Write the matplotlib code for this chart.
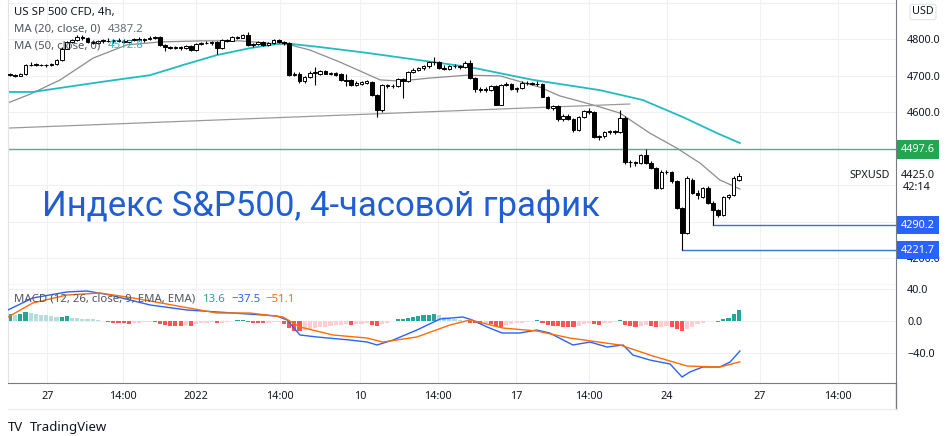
import matplotlib.pyplot as plt
from matplotlib.lines import Line2D
from matplotlib.transforms import blended_transform_factory

plt.rcParams['font.family'] = ['Noto Sans', 'DejaVu Sans']

# 4h candles of US SP 500 CFD, bar index 0..141
opens = [
    4703, 4701, 4700, 4704, 4728, 4730, 4729, 4728, 4730, 4731,
    4742, 4774, 4791, 4797, 4806, 4803, 4793, 4790, 4795, 4796,
    4794, 4798, 4795, 4792, 4797, 4800, 4797, 4801, 4804, 4805,
    4783, 4778, 4776, 4777, 4775, 4780, 4770, 4786, 4790, 4788,
    4793, 4775, 4797, 4796, 4805, 4804, 4812, 4785, 4787, 4792,
    4783, 4790, 4797, 4792, 4789, 4702, 4705, 4684, 4697, 4708,
    4705, 4712, 4705, 4707, 4704, 4688, 4688, 4674, 4678, 4680,
    4682, 4647, 4605, 4674, 4671, 4670, 4690, 4685, 4710, 4716,
    4720, 4727, 4737, 4738, 4722, 4719, 4726, 4727, 4723, 4735,
    4693, 4662, 4664, 4660, 4671, 4620, 4674, 4677, 4664, 4665,
    4680, 4679, 4677, 4676, 4642, 4612, 4616, 4580, 4590, 4582,
    4551, 4586, 4602, 4600, 4531, 4533, 4545, 4547, 4546, 4584,
    4463, 4462, 4460, 4482, 4461, 4447, 4392, 4436, 4435, 4410,
    4338, 4268, 4414, 4378, 4367, 4392, 4351, 4331, 4318, 4367,
    4372, 4414]
highs = [
    4708, 4705, 4706, 4731, 4737, 4733, 4732, 4731, 4734, 4745,
    4778, 4795, 4800, 4812, 4810, 4805, 4797, 4798, 4800, 4802,
    4800, 4803, 4799, 4798, 4804, 4805, 4803, 4808, 4809, 4807,
    4786, 4782, 4780, 4781, 4784, 4784, 4789, 4792, 4794, 4796,
    4796, 4799, 4801, 4807, 4809, 4815, 4820, 4790, 4795, 4794,
    4793, 4800, 4799, 4795, 4791, 4710, 4709, 4700, 4712, 4723,
    4714, 4715, 4710, 4710, 4706, 4704, 4690, 4684, 4686, 4688,
    4686, 4650, 4676, 4678, 4676, 4692, 4694, 4712, 4720, 4724,
    4730, 4740, 4751, 4740, 4728, 4729, 4731, 4730, 4740, 4742,
    4696, 4668, 4668, 4675, 4674, 4678, 4682, 4680, 4668, 4684,
    4684, 4683, 4684, 4679, 4645, 4620, 4620, 4594, 4594, 4585,
    4590, 4606, 4612, 4603, 4538, 4547, 4550, 4552, 4606, 4590,
    4468, 4467, 4485, 4500, 4465, 4450, 4440, 4440, 4438, 4413,
    4341, 4424, 4418, 4385, 4395, 4396, 4355, 4335, 4370, 4376,
    4424, 4433]
lows = [
    4698, 4697, 4698, 4702, 4725, 4726, 4725, 4724, 4727, 4729,
    4740, 4772, 4788, 4794, 4798, 4790, 4786, 4787, 4790, 4791,
    4790, 4793, 4789, 4788, 4794, 4795, 4793, 4798, 4800, 4780,
    4767, 4773, 4772, 4771, 4772, 4767, 4768, 4783, 4786, 4785,
    4760, 4772, 4792, 4794, 4800, 4802, 4782, 4779, 4783, 4780,
    4781, 4787, 4790, 4785, 4698, 4698, 4680, 4680, 4694, 4674,
    4702, 4703, 4701, 4699, 4685, 4670, 4672, 4670, 4675, 4677,
    4645, 4586, 4600, 4666, 4665, 4668, 4638, 4682, 4706, 4712,
    4716, 4722, 4730, 4718, 4716, 4716, 4720, 4719, 4720, 4690,
    4655, 4655, 4656, 4657, 4618, 4618, 4670, 4660, 4655, 4662,
    4675, 4674, 4672, 4640, 4608, 4606, 4576, 4576, 4578, 4545,
    4548, 4583, 4595, 4528, 4524, 4530, 4540, 4541, 4542, 4458,
    4450, 4452, 4457, 4458, 4444, 4390, 4389, 4430, 4406, 4335,
    4221.7, 4265, 4376, 4362, 4364, 4348, 4290.2, 4312, 4315, 4363,
    4370, 4412]
closes = [
    4701, 4700, 4704, 4728, 4730, 4729, 4728, 4730, 4731, 4742,
    4774, 4791, 4797, 4806, 4803, 4793, 4790, 4795, 4796, 4794,
    4798, 4795, 4792, 4797, 4800, 4797, 4801, 4804, 4805, 4783,
    4778, 4776, 4777, 4775, 4780, 4770, 4786, 4790, 4788, 4793,
    4775, 4797, 4796, 4805, 4804, 4812, 4785, 4787, 4792, 4783,
    4790, 4797, 4792, 4789, 4702, 4705, 4684, 4697, 4708, 4710,
    4712, 4705, 4706, 4701, 4688, 4686, 4674, 4680, 4682, 4684,
    4647, 4605, 4674, 4671, 4670, 4690, 4685, 4710, 4716, 4720,
    4727, 4737, 4738, 4722, 4719, 4726, 4727, 4723, 4735, 4693,
    4662, 4661, 4660, 4671, 4620, 4674, 4677, 4664, 4665, 4680,
    4679, 4677, 4676, 4642, 4612, 4616, 4580, 4590, 4582, 4551,
    4586, 4602, 4600, 4531, 4533, 4545, 4547, 4546, 4584, 4463,
    4462, 4460, 4482, 4461, 4447, 4392, 4436, 4435, 4410, 4338,
    4268, 4419, 4378, 4373, 4392, 4351, 4331, 4318, 4367, 4372,
    4419, 4425]

# moving averages (bar index, price)
ma20_x = [-0.4, 3.9, 9.7, 16.1, 22.6, 29, 36.8, 44.5, 52.2, 54.2, 58, 63.8, 71.6,
          75.4, 81.2, 88.4, 94.8, 102.5, 106.4, 109.3, 114.1, 118, 123.8, 129,
          133.5, 137.3, 141.2]
ma20_y = [4625, 4649, 4688, 4748, 4784, 4792, 4795, 4795, 4786, 4784, 4770, 4737,
          4688, 4685, 4693, 4701, 4699, 4668, 4644, 4633, 4614, 4597, 4542, 4501,
          4460, 4414, 4389]
ma50_x = [-0.4, 4.4, 17.4, 27.1, 33.5, 40, 46.4, 52.8, 60, 69.1, 81.8, 89, 101.2,
          114.1, 122.4, 130.2, 136.8, 141.2]
ma50_y = [4655, 4655, 4682, 4701, 4729, 4756, 4775, 4789, 4778, 4762, 4737, 4723,
          4688, 4660, 4633, 4586, 4542, 4515]
trend_x = [-0.4, 119.9]
trend_y = [4556, 4622]

# MACD (12, 26, 9)
macd_x = [-0.4, 4.4, 11, 14.9, 19.3, 27.1, 34.2, 43.1, 51.6, 53.6, 56.1, 59.4, 65.8,
          69.1, 71, 74.1, 78.7, 83.2, 87.6, 89.4, 92.3, 95.2, 98.6, 101.9, 104.4,
          108.9, 112.2, 115.5, 118.6, 120.5, 123.8, 127.7, 130, 131.5, 134, 137.3,
          139.3, 141.2]
macd_y = [13.8, 28.8, 36.3, 37.5, 32.5, 20, 13.8, 10, 6.3, 1.3, -17.5, -20, -23.8,
          -26.3, -30, -23.8, -11.3, 2.5, 5, 1.3, -7.5, -15, -15, -11.3, -15, -30,
          -26.3, -32.5, -30, -42.5, -48.8, -53.8, -70, -63.8, -57.5, -57.5, -51.3,
          -37.5]
signal_x = [-0.4, 4.4, 11, 17.4, 23.8, 33.5, 40, 46.4, 52.8, 56.1, 62.5, 69.1, 72.1,
            78.7, 85.1, 89, 95.4, 101.9, 108.3, 118, 124.4, 131, 137.3, 141.2]
signal_y = [5, 22.5, 32.5, 35, 28.8, 17.5, 10, 10, 5, -7.5, -17.5, -21.3, -26.3,
            -20, -5, 1.3, -8.8, -12.5, -21.3, -30, -43.8, -56.3, -57.5, -51.1]
hist = [
    9, 8, 9, 11, 10, 9, 8, 7, 6, 5,
    5.5, 6, 4, 3.5, 3, 2.5, 2, 1.2, 0.5, -1.5,
    -2, -2.5, -3, -3.2, -2.5, -2, -1.5, -1, -1.5, -4,
    -5, -6, -6.2, -6.5, -5, -6, -4, -3, -2, -1.5,
    -3, -2, -1, -0.5, 1, 1.5, -1, -2, -2.5, -3,
    -2, -1.5, -1, -4, -9, -12, -13, -11, -10, -9,
    -8, -7, -6, -5.5, -5, -3.5, -5, -4, -3.5, -3,
    -5, -6, -4, -2, 0.5, 2, 3, 4, 5, 6,
    7, 8, 9, 7, 5, 4, 3, 1.5, 0.5, -2,
    -3, -3.5, -2.5, -4, -6, -7, -5, -4, -3, -2,
    -1.5, -0.5, 1, -3, -5, -6, -6.5, -7, -7.5, -8,
    -6, -4, -3, -4, -5, -3, -2, -1, 1, -5,
    -6.5, -7.5, -6, -5, -6.5, -8, -7, -6, -8, -10,
    -13, -10, -7, -4, -2, 0.5, -0.5, -1, 2, 4,
    9, 13.6]

date_pos = [7.2, 21.9, 36.0, 52.2, 67.7, 82.8, 97.9, 112.0, 127.1, 145.1, 160.2]
date_labels = ["27", "14:00", "2022", "14:00", "10", "14:00", "17", "14:00", "24", "27", "14:00"]
price_ticks = [4200, 4300, 4400, 4500, 4600, 4700, 4800, 4900]
price_labels = ["4200.0", "", "", "", "4600.0", "4700.0", "4800.0", ""]
macd_ticks = [-40, 0, 40]
macd_labels = ["\u221240.0", "0.0", "40.0"]

W, H = 950, 436
TXT = '#131722'
GRID = '#eef0f5'
AXLINE = '#787b86'
FS = 8.2


def pane(fig, x0, y0, x1, y1):
    return fig.add_axes([x0 / W, 1 - y1 / H, (x1 - x0) / W, (y1 - y0) / H])


def style_pane(ax):
    ax.set_xlim(-0.39, 171.4)
    ax.set_facecolor('white')
    ax.grid(True, color=GRID, lw=0.8)
    ax.set_axisbelow(True)
    ax.spines['top'].set_visible(False)
    ax.spines['left'].set_color('#e0e3eb')
    ax.spines['right'].set_color(AXLINE)
    ax.spines['bottom'].set_color(AXLINE)
    ax.yaxis.tick_right()
    ax.tick_params(axis='y', length=0, pad=8, labelsize=7.8, labelcolor=TXT)
    ax.tick_params(axis='x', length=0, pad=6, labelsize=7.8, labelcolor=TXT)
    ax.set_xticks(date_pos)


def price_box(ax, value, text, color):
    tr = blended_transform_factory(ax.transAxes, ax.transData)
    ax.text(1.0248, value, text, transform=tr, ha='center', va='center',
            fontsize=7.8, color='white', clip_on=False, zorder=20,
            bbox=dict(boxstyle='square,pad=0.34', fc=color, ec='none'))


def draw_chart():
    fig = plt.figure(figsize=(W / 100, H / 100), dpi=100)
    ax = pane(fig, 8, 0, 896, 285)
    axm = pane(fig, 8, 285, 896, 383)
    style_pane(ax)
    style_pane(axm)

    # price pane
    ax.set_ylim(4126, 4907)
    ax.set_yticks(price_ticks, price_labels)
    ax.set_xticklabels([])

    x = list(range(len(closes)))
    up = [c >= o for o, c in zip(opens, closes)]
    body_bottom = [min(o, c) for o, c in zip(opens, closes)]
    body_height = [max(abs(c - o), 1.3) for o, c in zip(opens, closes)]
    ax.vlines(x, lows, highs, color='black', lw=0.8, zorder=3)
    ax.bar(x, body_height, bottom=body_bottom, width=0.7,
           color=['white' if u else 'black' for u in up],
           edgecolor='black', lw=0.7, zorder=4)

    ax.plot(ma20_x, ma20_y, color='#8c8c8c', lw=0.9, zorder=2)
    ax.plot(ma50_x, ma50_y, color='#20bcc4', lw=1.3, zorder=2)
    ax.plot(trend_x, trend_y, color='#9a9a9a', lw=0.9, zorder=2)

    ax.axhline(4497.6, color='#4cb38f', lw=1, zorder=2)
    ax.plot([130, 171.4], [4221.7, 4221.7], color='#3d6fd9', lw=1, zorder=2)
    ax.plot([136, 171.4], [4290.2, 4290.2], color='#3d6fd9', lw=1, zorder=2)

    price_box(ax, 4497.6, "4497.6", '#22a650')
    price_box(ax, 4290.2, "4290.2", '#2962ff')
    price_box(ax, 4221.7, "4221.7", '#2962ff')

    tr = blended_transform_factory(ax.transAxes, ax.transData)
    ax.text(0.9932, 4425, "SPXUSD", transform=tr, ha='right', va='center',
            fontsize=7.8, color=TXT)
    ax.text(1.0248, 4425, "4425.0", transform=tr, ha='center', va='center',
            fontsize=7.8, color=TXT, clip_on=False)
    ax.annotate("42:14", (1.0248, 4425), xycoords=tr, xytext=(-1, -8),
                textcoords='offset points', ha='center', va='center',
                fontsize=7.8, color=TXT, annotation_clip=False)

    # MACD pane
    axm.set_ylim(-77.5, 45)
    axm.set_yticks(macd_ticks, macd_labels)
    axm.set_xticklabels(date_labels)
    colors = []
    for i, v in enumerate(hist):
        prev = hist[i - 1] if i else v
        if v >= 0:
            colors.append('#26a69a' if v >= prev else '#b2dfdb')
        else:
            colors.append('#ff5252' if v < prev else '#ffcdd2')
    axm.bar(x, hist, width=0.8, color=colors, zorder=2)
    axm.plot(macd_x, macd_y, color='#2962ff', lw=1, zorder=3)
    axm.plot(signal_x, signal_y, color='#ff6d00', lw=1, zorder=3)

    # legends
    fig.text(14 / W, 1 - 12 / H, "US SP 500 CFD, 4h,", fontsize=FS, color=TXT, va='center')
    fig.text(14 / W, 1 - 29 / H, "MA (20, close, 0)", fontsize=FS, color='#50535e', va='center')
    fig.text(108 / W, 1 - 29 / H, "4387.2", fontsize=FS, color='#6a6d78', va='center')
    fig.text(14 / W, 1 - 46 / H, "MA (50, close, 0)", fontsize=FS, color='#50535e', va='center')
    fig.text(108 / W, 1 - 46 / H, "4512.8", fontsize=FS, color='#20bcc4', va='center')
    fig.text(14 / W, 1 - 299 / H, "MACD (12, 26, close, 9, EMA, EMA)", fontsize=FS,
             color='#50535e', va='center')
    fig.text(203 / W, 1 - 299 / H, "13.6", fontsize=FS, color='#26a69a', va='center')
    fig.text(231 / W, 1 - 299 / H, "\u221237.5", fontsize=FS, color='#2962ff', va='center')
    fig.text(265 / W, 1 - 299 / H, "\u221251.1", fontsize=FS, color='#ff6d00', va='center')

    fig.text(923 / W, 1 - 12 / H, "USD", fontsize=7.8, color=TXT, ha='center', va='center',
             bbox=dict(boxstyle='round,pad=0.2', fc='white', ec='#e0e3eb', lw=0.8))

    fig.text(42 / W, 1 - 206 / H, "Индекс S&P500, 4-часовой график", fontsize=25,
             family=['Roboto', 'DejaVu Sans'], color='#1f5fd3', va='center')

    # right scale line below the panes and footer
    fig.add_artist(Line2D([896 / W, 896 / W], [1 - 383 / H, 1 - 409 / H], color=AXLINE, lw=1))
    fig.add_artist(Line2D([8 / W, 896 / W], [1 - 409 / H, 1 - 409 / H], color='#e8eaef', lw=0.8))
    fig.text(8 / W, 1 - 427 / H, "TV", fontsize=9.5, fontweight='bold', color=TXT, va='center')
    fig.text(30 / W, 1 - 427 / H, "TradingView", fontsize=9.5, color=TXT, va='center')

    fig.savefig("out.png", dpi=100)


draw_chart()
